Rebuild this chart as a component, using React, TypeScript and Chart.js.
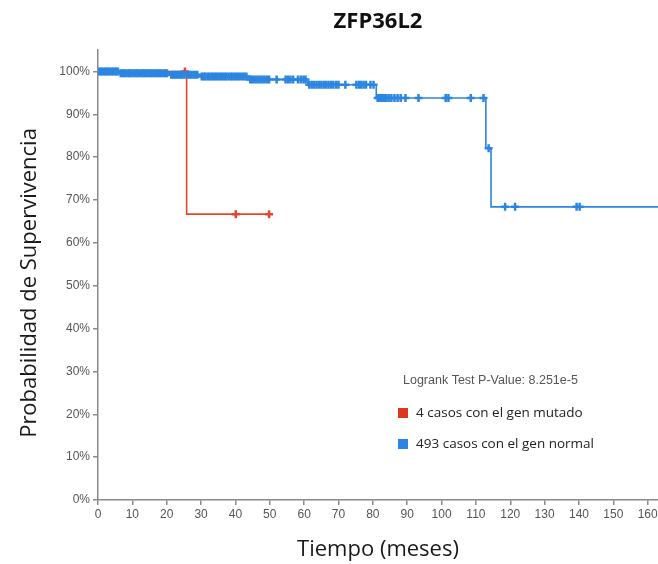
import React, { useEffect, useRef } from 'react';
import { Chart, registerables } from 'chart.js';

Chart.register(...registerables);

const TITLE = 'ZFP36L2';
const X_TITLE = 'Tiempo (meses)';
const Y_TITLE = 'Probabilidad de Supervivencia';
const PVALUE_TEXT = 'Logrank Test P-Value: 8.251e-5';
const MUT_LABEL = '4 casos con el gen mutado';
const NORM_LABEL = '493 casos con el gen normal';

const X_TICKS = [0, 10, 20, 30, 40, 50, 60, 70, 80, 90, 100, 110, 120, 130, 140, 150, 160];
const Y_TICKS = [0, 10, 20, 30, 40, 50, 60, 70, 80, 90, 100];

// Normal group (493 cases): Kaplan-Meier step times (months) and survival (%)
const normalStepTimes = [0, 6, 21, 30, 44, 61, 81, 112.9, 114.4, 165];
const normalStepSurv = [100, 99.6, 99.2, 98.8, 98.1, 96.9, 93.8, 82.1, 68.4, 68.4];
// Censored observations (months)
const normalCensorTimes = [
  0.3, 0.8, 1.2, 1.7, 2.1, 2.6, 3.0, 3.5, 4.0, 4.4, 4.9, 5.3, 5.8,
  6.6, 7.1, 7.5, 8.0, 8.6, 9.1, 9.5, 10.0, 10.6, 11.1, 11.5, 12.0, 12.6,
  13.1, 13.5, 14.0, 14.6, 15.1, 15.5, 16.0, 16.6, 17.1, 17.6, 18.0, 18.5,
  19.1, 19.6, 20.1, 21.3, 21.9, 22.4, 23.0, 23.5, 24.1, 24.6, 25.2, 26.1,
  26.7, 27.2, 27.8, 28.3, 28.9, 30.2, 30.8, 31.3, 31.9, 32.4, 33.0, 33.5,
  34.1, 34.6, 35.2, 35.8, 36.3, 36.9, 37.4, 38.0, 38.6, 39.1, 39.7, 40.2,
  40.8, 41.4, 42.0, 42.6, 43.2, 44.3, 44.9, 45.5, 46.1, 46.7, 47.3, 47.9,
  48.5, 49.2, 49.8, 52.0, 54.6, 55.3, 56.0, 56.8, 58.2, 59.0, 59.8, 60.4,
  61.5, 62.2, 62.9, 63.6, 64.3, 65.0, 65.7, 66.4, 67.1, 67.8, 68.5, 69.3,
  70.0, 72.0, 75.2, 75.9, 76.6, 77.3, 78.0, 79.3, 80.2,
  81.4, 81.9, 82.4, 82.9, 83.4, 83.9, 84.6, 85.4, 86.3, 87.2, 88.1, 89.5,
  93.3, 101.2, 102.0, 108.5, 112.2, 113.7, 118.5, 121.4, 139.3, 140.2,
];

// Mutated group (4 cases)
const mutStepTimes = [0, 25.8, 49.8];
const mutStepSurv = [100, 66.7, 66.7];
const mutCensorTimes = [25.3, 40.1, 49.8];

const BLUE = '#2b86e2';
const RED = '#e5452c';
const RED_SQ = '#d93a1f';

function levelAt(times: number[], surv: number[], t: number): number {
  let v = surv[0];
  for (let i = 0; i < times.length; i++) {
    if (times[i] <= t) v = surv[i];
  }
  return v;
}

const textPlugin = {
  id: 'kmTexts',
  afterDraw(chart: any) {
    const ctx = chart.ctx as CanvasRenderingContext2D;
    const a = chart.chartArea;
    const cx = (a.left + a.right) / 2;
    ctx.save();
    ctx.textBaseline = 'middle';
    // Title
    ctx.fillStyle = '#111111';
    ctx.textAlign = 'center';
    ctx.font = 'bold 22px "Open Sans"';
    ctx.fillText(TITLE, cx, 22);
    // X title
    ctx.fillStyle = '#1a1a1a';
    ctx.font = '22px "Open Sans"';
    ctx.fillText(X_TITLE, cx, 550);
    // Y title
    ctx.save();
    ctx.translate(30, 283);
    ctx.rotate(-Math.PI / 2);
    ctx.fillText(Y_TITLE, 0, 0);
    ctx.restore();
    // P-value
    ctx.textAlign = 'left';
    ctx.fillStyle = '#555555';
    ctx.font = '12.5px "Liberation Sans", Arial';
    ctx.fillText(PVALUE_TEXT, 403, 381);
    // Legend
    ctx.fillStyle = RED_SQ;
    ctx.fillRect(398, 408, 10, 10);
    ctx.fillStyle = BLUE;
    ctx.fillRect(398, 439, 10, 10);
    ctx.fillStyle = '#222222';
    ctx.font = '13.5px "Open Sans"';
    ctx.fillText(MUT_LABEL, 416, 413);
    ctx.fillText(NORM_LABEL, 416, 444);
    ctx.restore();
  },
};

export default function App() {
  const ref = useRef<HTMLCanvasElement | null>(null);

  useEffect(() => {
    if (!ref.current) return;
    const normalLine = normalStepTimes.map((t, i) => ({ x: t, y: normalStepSurv[i] }));
    const normalCens = normalCensorTimes.map((t) => ({ x: t, y: levelAt(normalStepTimes, normalStepSurv, t) }));
    const mutLine = mutStepTimes.map((t, i) => ({ x: t, y: mutStepSurv[i] }));
    const mutCens = mutCensorTimes.map((t) => ({ x: t, y: levelAt(mutStepTimes, mutStepSurv, t) }));

    const tickFont = { family: '"Liberation Sans", Arial, sans-serif', size: 12 };

    const chart = new Chart(ref.current, {
      type: 'line',
      data: {
        datasets: [
          {
            data: normalCens,
            showLine: false,
            pointStyle: 'cross',
            pointRadius: 4,
            pointBorderWidth: 2.5,
            borderColor: BLUE,
            backgroundColor: BLUE,
          },
          {
            data: normalLine,
            stepped: true,
            borderColor: BLUE,
            borderWidth: 1.6,
            pointRadius: 0,
            fill: false,
          },
          {
            data: mutCens,
            showLine: false,
            pointStyle: 'cross',
            pointRadius: 4,
            pointBorderWidth: 2.5,
            borderColor: RED,
            backgroundColor: RED,
          },
          {
            data: mutLine,
            stepped: true,
            borderColor: RED,
            borderWidth: 1.6,
            pointRadius: 0,
            fill: false,
          },
        ] as any,
      },
      options: {
        responsive: false,
        animation: false,
        events: [],
        layout: { autoPadding: false, padding: { top: 50, right: 0, bottom: 0, left: 0 } },
        plugins: {
          legend: { display: false },
          title: { display: false },
          tooltip: { enabled: false },
        },
        scales: {
          x: {
            type: 'linear',
            min: 0,
            max: 163,
            afterBuildTicks: (s: any) => {
              s.ticks = X_TICKS.map((v) => ({ value: v }));
            },
            afterFit: (s: any) => {
              s.height = 64;
              s.paddingLeft = 0;
              s.paddingRight = 0;
            },
            ticks: {
              color: '#555555',
              font: tickFont,
              padding: 2,
              maxRotation: 0,
              autoSkip: false,
            },
            grid: {
              display: true,
              drawOnChartArea: false,
              drawTicks: true,
              tickLength: 5,
              color: '#8a8a8a',
              lineWidth: 1.5,
            },
            border: { display: true, color: '#8a8a8a', width: 1.5 },
          },
          y: {
            type: 'linear',
            min: 0,
            max: 105,
            afterBuildTicks: (s: any) => {
              s.ticks = Y_TICKS.map((v) => ({ value: v }));
            },
            afterFit: (s: any) => {
              s.width = 98;
              s.paddingTop = 0;
              s.paddingBottom = 0;
            },
            ticks: {
              color: '#555555',
              font: tickFont,
              padding: 3,
              callback: (v: any) => `${v}%`,
            },
            grid: {
              display: true,
              drawOnChartArea: false,
              drawTicks: true,
              tickLength: 5,
              color: '#8a8a8a',
              lineWidth: 1.5,
            },
            border: { display: true, color: '#8a8a8a', width: 1.5 },
          },
        },
      } as any,
      plugins: [textPlugin],
    });
    return () => chart.destroy();
  }, []);

  return (
    <div style={{ position: 'fixed', left: 0, top: 0, width: 658, height: 564, background: '#ffffff' }}>
      <canvas ref={ref} width={658} height={564} style={{ display: 'block', width: 658, height: 564 }} />
    </div>
  );
}
